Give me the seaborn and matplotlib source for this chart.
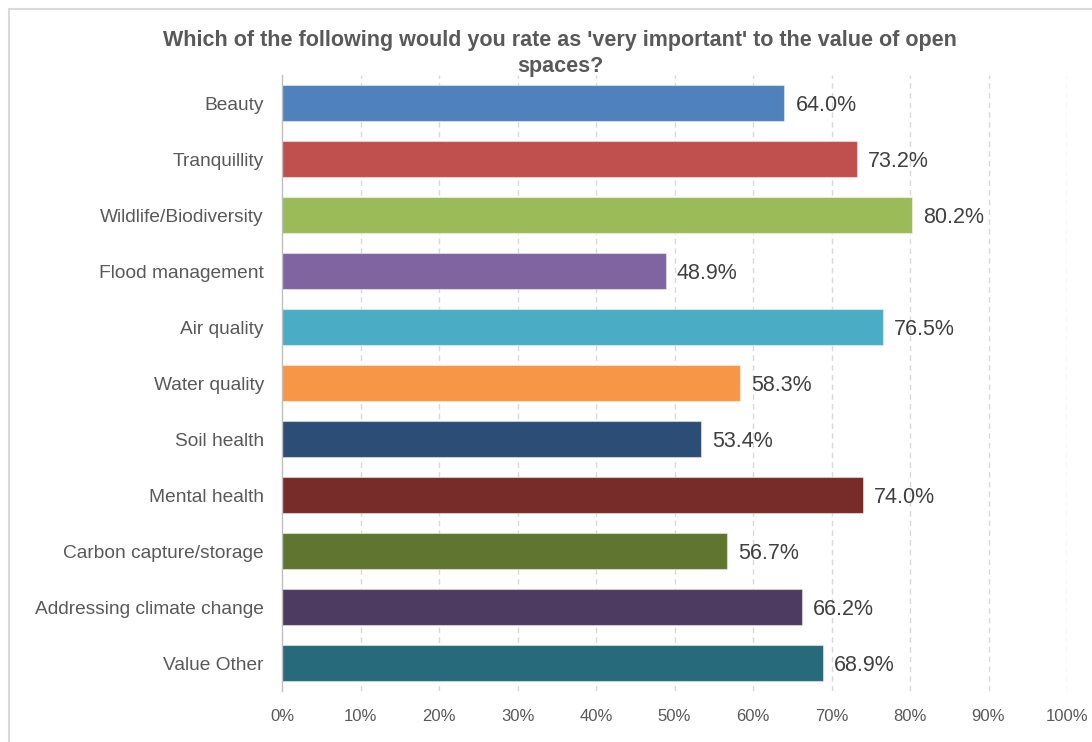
import matplotlib
matplotlib.use("Agg")
import matplotlib.pyplot as plt
import seaborn as sns
import pandas as pd
from matplotlib.patches import Rectangle
from matplotlib.ticker import FuncFormatter, MultipleLocator

categories = ["Beauty", "Tranquillity", "Wildlife/Biodiversity", "Flood management",
              "Air quality", "Water quality", "Soil health", "Mental health",
              "Carbon capture/storage", "Addressing climate change", "Value Other"]
values = [64.0, 73.2, 80.2, 48.9, 76.5, 58.3, 53.4, 74.0, 56.7, 66.2, 68.9]
colors = ["#4F81BD", "#C0504D", "#9BBB59", "#8064A2", "#4BACC6", "#F79646",
          "#2C4D75", "#772C2A", "#5F7530", "#4D3B62", "#276A7C"]
title = "Which of the following would you rate as 'very important' to the value of open\nspaces?"

sns.set_theme(style="white")
plt.rcParams["font.family"] = ["Liberation Sans", "DejaVu Sans"]

df = pd.DataFrame({"category": categories, "value": values})

fig = plt.figure(figsize=(10.92, 7.42), dpi=100)
ax = fig.add_axes([282/1092, 1 - 691/742, (1067 - 282)/1092, (691 - 75)/742])

sns.barplot(data=df, y="category", x="value", hue="category", palette=colors,
            legend=False, width=0.66, ax=ax, saturation=1, orient="h")

for patch in ax.patches:
    patch.set_edgecolor((1, 1, 1, 0.45))
    patch.set_linewidth(0.8)

for cont in ax.containers:
    texts = ax.bar_label(cont, labels=[f"{v:.1f}%" for v in cont.datavalues], padding=8,
                         fontsize=15.5, color="#404040")
    for t in texts:
        x0, y0 = t.xyann
        t.xyann = (x0, y0 - 2)

ax.set_xlim(0, 100)
ax.set_ylim(10.5, -0.5)
ax.xaxis.set_major_locator(MultipleLocator(10))
ax.xaxis.set_major_formatter(FuncFormatter(lambda v, p: f"{int(round(v))}%"))
ax.set_xlabel("")
ax.set_ylabel("")
ax.tick_params(axis="x", labelsize=12, colors="#595959", length=0, pad=13)
ax.tick_params(axis="y", labelsize=13.8, colors="#595959", length=0, pad=13)

for x in range(10, 101, 10):
    ax.axvline(x, color="#d9d9d9", linestyle=(0, (4, 3)), linewidth=1, zorder=0)
ax.set_axisbelow(True)

for s in ["top", "right", "bottom"]:
    ax.spines[s].set_visible(False)
ax.spines["left"].set_color("#bfbfbf")
ax.spines["left"].set_linewidth(1)

fig.text(560/1092, 1 - 53.5/742, title, ha="center", va="center", fontsize=15.5,
         fontweight="bold", color="#595959", linespacing=1.3)

fig.patches.append(Rectangle((9/1092, -0.1), 1.2, 1 - 9/742 + 0.1,
                             transform=fig.transFigure, fill=False,
                             edgecolor="#d9d9d9", linewidth=1.5, zorder=-1))

fig.savefig("out.png", dpi=100)
